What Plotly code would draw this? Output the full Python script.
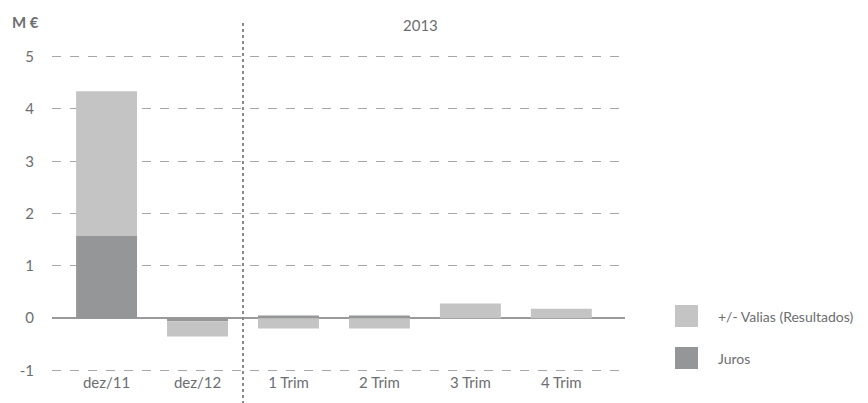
import plotly.graph_objects as go

categories = ["dez/11", "dez/12", "1 Trim", "2 Trim", "3 Trim", "4 Trim"]
juros = [1.57, -0.06, 0.05, 0.05, 0.0, 0.0]
valias = [2.77, -0.29, -0.20, -0.20, 0.28, 0.18]
y_ticks = [-1, 0, 1, 2, 3, 4, 5]

FONT = "Lato, Roboto, sans-serif"
TXT = "#6d6e71"
C_JUROS = "#959698"
C_VALIAS = "#c4c4c4"

L, R, T, B = 52, 625, 41, 372  # plot area in pixels
PW, PH = R - L, B - T


def px(x):
    return (x - L) / PW


def py(y):
    return (B - y) / PH


fig = go.Figure()
fig.add_trace(go.Bar(x=categories, y=juros, name="Juros", marker_color=C_JUROS,
                     width=0.67, marker_line_width=0))
fig.add_trace(go.Bar(x=categories, y=valias, name="+/- Valias (Resultados)",
                     marker_color=C_VALIAS, width=0.67, marker_line_width=0))

fig.update_layout(
    barmode="relative",
    width=868, height=403,
    margin=dict(l=L, r=868 - R, t=T, b=403 - B, autoexpand=False),
    paper_bgcolor="white", plot_bgcolor="white",
    showlegend=False,
    font=dict(family=FONT, size=15, color=TXT),
)
fig.update_xaxes(
    range=[-0.6, 5.7], showgrid=False, showline=False, zeroline=False,
    ticks="", automargin=False,
    tickfont=dict(family=FONT, size=15, color=TXT),
)
fig.update_yaxes(
    range=[-1.03, 5.3], tickvals=y_ticks, ticktext=[str(v) for v in y_ticks],
    showgrid=True, gridcolor="#a7a7a7", griddash="dash", gridwidth=1,
    zeroline=True, zerolinecolor="#9a9a9a", zerolinewidth=2, automargin=False,
    showline=False, ticks="outside", ticklen=14, tickcolor="rgba(0,0,0,0)",
    tickfont=dict(family=FONT, size=15, color=TXT),
)

# vertical separator between 2012 and 2013
fig.add_shape(type="line", xref="x", yref="paper", x0=1.5, x1=1.5, y0=py(404), y1=py(20),
              line=dict(color="#8a8a8a", width=2, dash="dot"), layer="above")

fig.add_annotation(text="2013", xref="x", yref="paper", x=3.45, y=py(25),
                   yanchor="middle", showarrow=False,
                   font=dict(family=FONT, size=15, color=TXT))
fig.add_annotation(text="<b>M €</b>", xref="paper", yref="paper", x=px(25), y=py(22),
                   xanchor="center", yanchor="middle", showarrow=False,
                   font=dict(family=FONT, size=15, color=TXT))

# legend (manual, large swatches)
legend_items = [("+/- Valias (Resultados)", C_VALIAS, 316), ("Juros", C_JUROS, 358)]
for label, color, ypx in legend_items:
    fig.add_shape(type="rect", xref="paper", yref="paper",
                  x0=px(675), x1=px(698), y0=py(ypx + 11), y1=py(ypx - 11),
                  fillcolor=color, line_width=0)
    fig.add_annotation(text=label, xref="paper", yref="paper",
                       x=px(716), y=py(ypx),
                       xanchor="left", yanchor="middle", showarrow=False,
                       font=dict(family=FONT, size=14, color=TXT))

fig.write_html("out.html")
